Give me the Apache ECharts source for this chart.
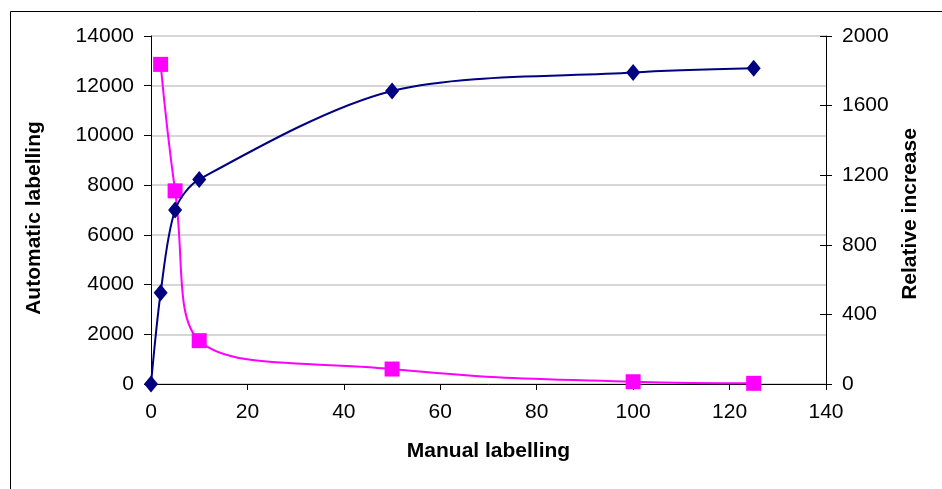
<!DOCTYPE html>
<html>
<head>
<meta charset="utf-8">
<script src="https://cdn.jsdelivr.net/npm/echarts@6/dist/echarts.min.js"></script>
<style>
html,body{margin:0;padding:0;background:#fff;}
#c{width:942px;height:489px;}
</style>
</head>
<body>
<div id="c"></div>
<script>
// Data
var manualX = [0, 2, 5, 10, 50, 100, 125];
var automaticLabelling = [0, 3670, 7000, 8230, 11790, 12530, 12700];
var relativeX = [2, 5, 10, 50, 100, 125];
var relativeIncrease = [1837, 1110, 249, 86, 13, 4];

var xTicks = {min: 0, max: 140, interval: 20};
var leftTicks = {min: 0, max: 14000, interval: 2000};
var rightTicks = {min: 0, max: 2000, interval: 400};

function pairs(xs, ys) {
  return xs.map(function (x, i) { return [x, ys[i]]; });
}
function plain(v) { return String(v); }

var font = 'Liberation Sans, Arial, sans-serif';
var fs = 21;
var chart = echarts.init(document.getElementById('c'), null, {renderer: 'canvas'});
chart.setOption({
  backgroundColor: '#ffffff',
  animation: false,
  graphic: [{
    type: 'rect',
    shape: {x: 10.5, y: 11.5, width: 960, height: 500},
    style: {fill: 'none', stroke: '#000', lineWidth: 1},
    silent: true,
    z: -10
  }],
  grid: {left: 151, right: 116, top: 36, bottom: 105, containLabel: false},
  xAxis: {
    type: 'value',
    min: xTicks.min, max: xTicks.max, interval: xTicks.interval,
    name: 'Manual labelling',
    nameLocation: 'middle',
    nameGap: 57,
    nameTextStyle: {fontFamily: font, fontSize: fs, fontWeight: 'bold', color: '#000'},
    axisLine: {show: true, lineStyle: {color: '#000', width: 1}},
    axisTick: {show: true, inside: false, length: 6, lineStyle: {color: '#000'}},
    axisLabel: {fontFamily: font, fontSize: fs, color: '#000', margin: 18, formatter: plain},
    splitLine: {show: false}
  },
  yAxis: [{
    type: 'value',
    position: 'left',
    min: leftTicks.min, max: leftTicks.max, interval: leftTicks.interval,
    name: 'Automatic labelling',
    nameLocation: 'middle',
    nameRotate: 90,
    nameGap: 106,
    nameTextStyle: {fontFamily: font, fontSize: fs, fontWeight: 'bold', color: '#000', padding: [0, 16, 0, 0]},
    axisLine: {show: true, lineStyle: {color: '#000', width: 1}},
    axisTick: {show: true, inside: false, length: 7, lineStyle: {color: '#000'}},
    axisLabel: {fontFamily: font, fontSize: fs, color: '#000', margin: 17, formatter: plain},
    splitLine: {show: true, lineStyle: {color: '#c8c8c8', width: 1.5}}
  }, {
    type: 'value',
    position: 'right',
    offset: 0,
    min: rightTicks.min, max: rightTicks.max, interval: rightTicks.interval,
    name: 'Relative increase',
    nameLocation: 'middle',
    nameRotate: 90,
    nameGap: 74,
    nameTextStyle: {fontFamily: font, fontSize: fs, fontWeight: 'bold', color: '#000', padding: [0, 8, 0, 0]},
    axisLine: {show: true, lineStyle: {color: '#000', width: 1}},
    axisTick: {show: true, inside: false, length: 6, lineStyle: {color: '#000'}},
    axisLabel: {fontFamily: font, fontSize: fs, color: '#000', margin: 16, formatter: plain},
    splitLine: {show: false}
  }, {
    type: 'value',
    position: 'right',
    offset: 0,
    min: rightTicks.min, max: rightTicks.max, interval: rightTicks.interval,
    axisLine: {show: false},
    axisTick: {show: true, inside: true, length: 6, lineStyle: {color: '#000'}},
    axisLabel: {show: false},
    splitLine: {show: false}
  }],
  series: [{
    name: 'Relative increase',
    type: 'line',
    yAxisIndex: 1,
    data: pairs(relativeX, relativeIncrease),
    smooth: 0.45,
    symbol: 'rect',
    symbolSize: 15,
    clip: false,
    lineStyle: {color: '#ff00ff', width: 2},
    itemStyle: {color: '#ff00ff'},
    z: 3
  }, {
    name: 'Automatic labelling',
    type: 'line',
    yAxisIndex: 0,
    data: pairs(manualX, automaticLabelling),
    smooth: 0.3,
    symbol: 'diamond',
    symbolSize: [14, 17],
    clip: false,
    lineStyle: {color: '#000080', width: 2},
    itemStyle: {color: '#000080'},
    z: 4
  }]
});
</script>
</body>
</html>
